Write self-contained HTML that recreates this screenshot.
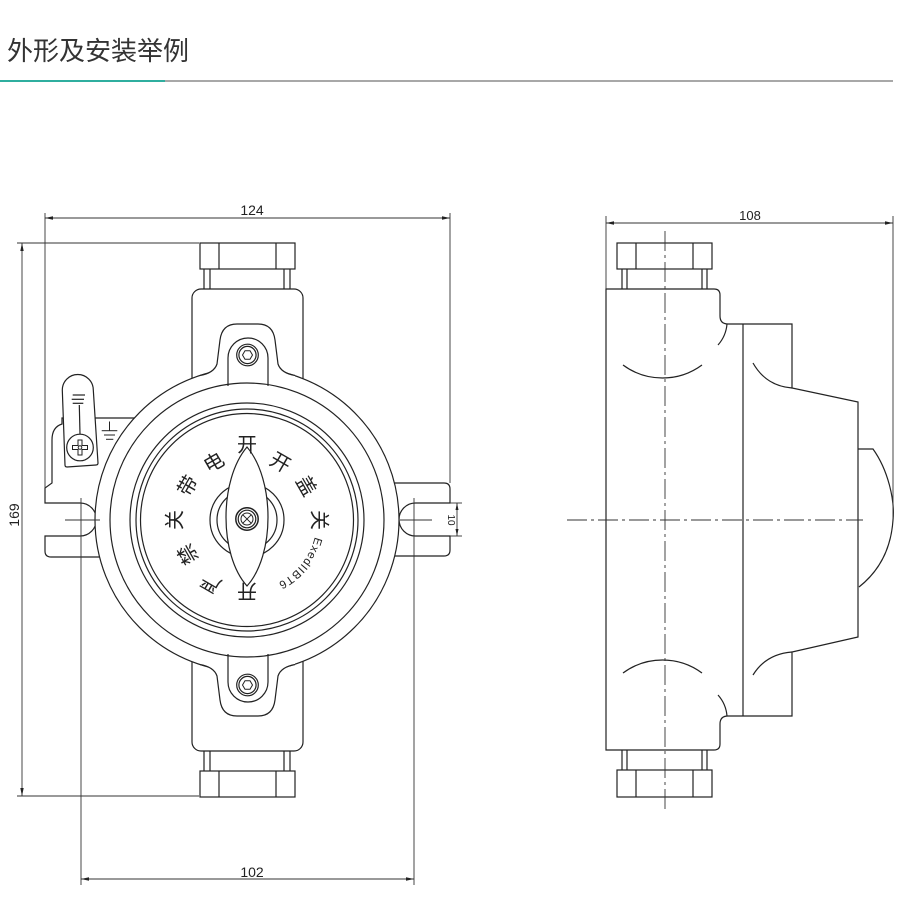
<!DOCTYPE html>
<html><head><meta charset="utf-8">
<style>
html,body{margin:0;padding:0;background:#fff;}
svg{display:block;}
</style></head><body>
<svg width="900" height="899" viewBox="0 0 900 899" xmlns="http://www.w3.org/2000/svg">
<rect width="900" height="899" fill="#fff"/>
<text x="7" y="60" font-family="'Liberation Sans','Noto Sans CJK SC',sans-serif" font-size="26" fill="#333">外形及安装举例</text>
<rect x="0" y="80" width="893" height="2" fill="#a8a8a8"/>
<rect x="0" y="80" width="165" height="2" fill="#2fae9f"/>

<!-- LEFT VIEW -->
<g stroke="#222" stroke-width="1.2" fill="none">
  <g id="topparts">
    <rect x="192" y="289" width="111" height="160" rx="9" fill="#fff"/>
    <line x1="204" y1="269" x2="204" y2="289"/><line x1="210" y1="269" x2="210" y2="289"/>
    <line x1="284" y1="269" x2="284" y2="289"/><line x1="290" y1="269" x2="290" y2="289"/>
    <rect x="200" y="243" width="95" height="26" fill="#fff"/>
    <line x1="219" y1="243" x2="219" y2="269"/><line x1="276" y1="243" x2="276" y2="269"/>
  </g>
  <g transform="translate(0,1040) scale(1,-1)">
    <rect x="192" y="289" width="111" height="160" rx="9" fill="#fff"/>
    <line x1="204" y1="269" x2="204" y2="289"/><line x1="210" y1="269" x2="210" y2="289"/>
    <line x1="284" y1="269" x2="284" y2="289"/><line x1="290" y1="269" x2="290" y2="289"/>
    <rect x="200" y="243" width="95" height="26" fill="#fff"/>
    <line x1="219" y1="243" x2="219" y2="269"/><line x1="276" y1="243" x2="276" y2="269"/>
  </g>

  <path d="M62,418 H136 V557 H51 Q45,557 45,551 V536 H80 A16.5 16.5 0 0 0 80,503 H45 V488 L52,483 V440 Q52,427 62,424 Z" fill="#fff"/>
  <path d="M62.3,390 A15.5 15.5 0 0 1 93.3,390 L98,463 Q98,465 96,465 L67,467 Q65,467 65,465 Z" fill="#fff"/>
  <line x1="72.7" y1="395" x2="85" y2="395"/>
  <line x1="71.7" y1="399.3" x2="84" y2="399.3"/>
  <line x1="72.7" y1="403.3" x2="83.3" y2="403.3"/>
  <line x1="79.3" y1="405" x2="80" y2="434"/>
  <circle cx="80" cy="447.5" r="13.3" fill="#fff"/>
  <path d="M78,440 H82 V445.5 H87.5 V449.5 H82 V455 H78 V449.5 H72.5 V445.5 H78 Z" stroke-width="1"/>
  <circle cx="80" cy="447.5" r="1.8" stroke-width="1"/>
  <g stroke-width="1">
    <line x1="109.5" y1="421.5" x2="109.5" y2="430.5"/>
    <line x1="101.7" y1="430.7" x2="117.3" y2="430.7"/>
    <line x1="104" y1="435" x2="115" y2="435"/>
    <line x1="106" y1="439.3" x2="113.3" y2="439.3"/>
  </g>

  <path d="M380,483 H444 Q450,483 450,489 V503 H415.5 A16.5 16.5 0 0 0 415.5,536 H450 V550 Q450,556 444,556 H380 Z" fill="#fff"/>

  <circle cx="247" cy="520" r="152" fill="#fff"/>

  <g>
    <path d="M200,375.5 Q214,373 217,364 L220,340 Q222,324 237,324 H258 Q273,324 275,340 L278,364 Q281,373 295,375.5 L295,395 L200,395 Z" fill="#fff" stroke="none"/>
    <path d="M200,375.5 Q214,373 217,364 L220,340 Q222,324 237,324 H258 Q273,324 275,340 L278,364 Q281,373 295,375.5"/>
  </g>
  <g transform="translate(0,1040) scale(1,-1)">
    <path d="M200,375.5 Q214,373 217,364 L220,340 Q222,324 237,324 H258 Q273,324 275,340 L278,364 Q281,373 295,375.5 L295,395 L200,395 Z" fill="#fff" stroke="none"/>
    <path d="M200,375.5 Q214,373 217,364 L220,340 Q222,324 237,324 H258 Q273,324 275,340 L278,364 Q281,373 295,375.5"/>
  </g>

  <circle cx="247" cy="520" r="137"/>
  <circle cx="247" cy="520" r="117"/>
  <circle cx="247" cy="520" r="111"/>
  <circle cx="247" cy="520" r="106.5"/>

  <path d="M228,386 V358 A20 20 0 0 1 268,358 V386"/>
  <circle cx="247.5" cy="355" r="10.8"/>
  <circle cx="247.5" cy="355" r="8.6"/>
  <path d="M252.5,355 L250,359.3 L245,359.3 L242.5,355 L245,350.7 L250,350.7 Z" stroke-width="1"/>
  <g transform="translate(0,1040) scale(1,-1)">
    <path d="M228,386 V358 A20 20 0 0 1 268,358 V386"/>
    <circle cx="247.5" cy="355" r="10.8"/>
    <circle cx="247.5" cy="355" r="8.6"/>
    <path d="M252.5,355 L250,359.3 L245,359.3 L242.5,355 L245,350.7 L250,350.7 Z" stroke-width="1"/>
  </g>

  <circle cx="247" cy="520" r="37"/>
  <circle cx="247" cy="520" r="30"/>
  <path d="M247,447 C275,480 275,555 247,586 C219,555 219,480 247,447 Z" fill="#fff"/>
  <circle cx="247" cy="519" r="11.2" stroke-width="1.5" fill="#fff"/>
  <circle cx="247" cy="519" r="8.8"/>
  <circle cx="247" cy="519" r="6" stroke-width="1"/>
  <line x1="242.8" y1="514.8" x2="251.2" y2="523.2" stroke-width="1"/>
  <line x1="251.2" y1="514.8" x2="242.8" y2="523.2" stroke-width="1"/>
</g>

<g font-family="'Noto Sans CJK SC','WenQuanYi Zen Hei',sans-serif" font-size="20" fill="#222" text-anchor="middle" dominant-baseline="central">
  <text x="247" y="443" transform="rotate(0 247 520)">开</text>
  <text x="247" y="452" transform="rotate(-30 247 520)">电</text>
  <text x="247" y="452" transform="rotate(30 247 520)">开</text>
  <text x="247" y="450" transform="rotate(-60 247 520)">带</text>
  <text x="247" y="450" transform="rotate(60 247 520)">盖</text>
  <text x="247" y="446" transform="rotate(-90 247 520)">关</text>
  <text x="247" y="446" transform="rotate(90 247 520)">关</text>
  <text x="247" y="450" transform="rotate(-120 247 520)">禁</text>
  <text x="247" y="446" transform="rotate(-150 247 520)">严</text>
  <text x="247" y="447" transform="rotate(180 247 520)">开</text>
</g>
<path id="exarc" d="M314.9,536.9 A70 70 0 0 1 253.1,589.7" fill="none" stroke="none"/>
<text font-family="'Liberation Sans',sans-serif" font-size="11.5" letter-spacing="0.8" fill="#222"><textPath href="#exarc">ExedIIBT6</textPath></text>

<g stroke="#333" stroke-width="0.9" fill="none">
  <line x1="45" y1="218" x2="450" y2="218"/>
  <line x1="45" y1="213" x2="45" y2="488"/>
  <line x1="450" y1="213" x2="450" y2="483"/>
  <line x1="22" y1="243" x2="22" y2="796"/>
  <line x1="17" y1="243" x2="199" y2="243"/>
  <line x1="17" y1="796" x2="199" y2="796"/>
  <line x1="81" y1="498" x2="81" y2="885"/>
  <line x1="414" y1="498" x2="414" y2="885"/>
  <line x1="81" y1="879" x2="414" y2="879"/>
  <line x1="457" y1="503" x2="457" y2="536"/>
  <line x1="450" y1="503" x2="462" y2="503"/>
  <line x1="450" y1="536" x2="462" y2="536"/>
  <line x1="65" y1="520" x2="100" y2="520"/>
  <line x1="400" y1="520" x2="432" y2="520"/>
</g>
<g fill="#222">
  <polygon points="45,218 53,216.3 53,219.7"/>
  <polygon points="450,218 442,216.3 442,219.7"/>
  <polygon points="22,243 20.3,251 23.7,251"/>
  <polygon points="22,796 20.3,788 23.7,788"/>
  <polygon points="81,879 89,877.3 89,880.7"/>
  <polygon points="414,879 406,877.3 406,880.7"/>
  <polygon points="457,503 455.5,510 458.5,510"/>
  <polygon points="457,536 455.5,529 458.5,529"/>
</g>
<g font-family="'Liberation Sans',sans-serif" font-size="14" fill="#222" text-anchor="middle">
  <text x="252" y="215">124</text>
  <text x="252" y="877">102</text>
  <text x="19" y="515" transform="rotate(-90 19 515)">169</text>
  <text x="448" y="520" font-size="10" transform="rotate(90 448 520)">10</text>
</g>

<g stroke="#222" stroke-width="1.2" fill="none">
  <rect x="617" y="243" width="95" height="26"/>
  <line x1="636" y1="243" x2="636" y2="269"/><line x1="693" y1="243" x2="693" y2="269"/>
  <line x1="622" y1="269" x2="622" y2="289"/><line x1="627" y1="269" x2="627" y2="289"/>
  <line x1="702" y1="269" x2="702" y2="289"/><line x1="707" y1="269" x2="707" y2="289"/>
  <path d="M606,289 H714 Q720,289 720,295 V316 Q720,324 728,324 H792 V388 L858,402 V637 L792,652 V716 H728 Q720,716 720,724 V744 Q720,750 714,750 H606 Z"/>
  <line x1="743" y1="324" x2="743" y2="716"/>
  <path d="M858,449 H873 C888,470 895,500 893,520 C891,550 878,572 859,587"/>
  <path d="M753,363 Q766,386 792,388"/>
  <path d="M753,675 Q766,654 792,652"/>
  <path d="M718,345 Q726,336 727,324"/>
  <path d="M718,695 Q726,704 727,716"/>
  <path d="M623,365 A66.5 66.5 0 0 0 702,365"/>
  <path d="M623,673 A66.5 66.5 0 0 1 702,673"/>
  <line x1="622" y1="750" x2="622" y2="770"/><line x1="627" y1="750" x2="627" y2="770"/>
  <line x1="702" y1="750" x2="702" y2="770"/><line x1="707" y1="750" x2="707" y2="770"/>
  <rect x="617" y="770" width="95" height="27"/>
  <line x1="636" y1="770" x2="636" y2="797"/><line x1="693" y1="770" x2="693" y2="797"/>
</g>
<g stroke="#333" stroke-width="0.9" fill="none">
  <line x1="665" y1="231" x2="665" y2="813" stroke-dasharray="20 4 3 4"/>
  <line x1="567" y1="520" x2="863" y2="520" stroke-dasharray="20 4 3 4"/>
  <line x1="606" y1="223" x2="893" y2="223"/>
  <line x1="606" y1="216" x2="606" y2="289"/>
  <line x1="893" y1="216" x2="893" y2="518"/>
</g>
<g fill="#222">
  <polygon points="606,223 614,221.3 614,224.7"/>
  <polygon points="893,223 885,221.3 885,224.7"/>
</g>
<text x="750" y="220" font-family="'Liberation Sans',sans-serif" font-size="13" fill="#222" text-anchor="middle">108</text>
</svg>
</body></html>
